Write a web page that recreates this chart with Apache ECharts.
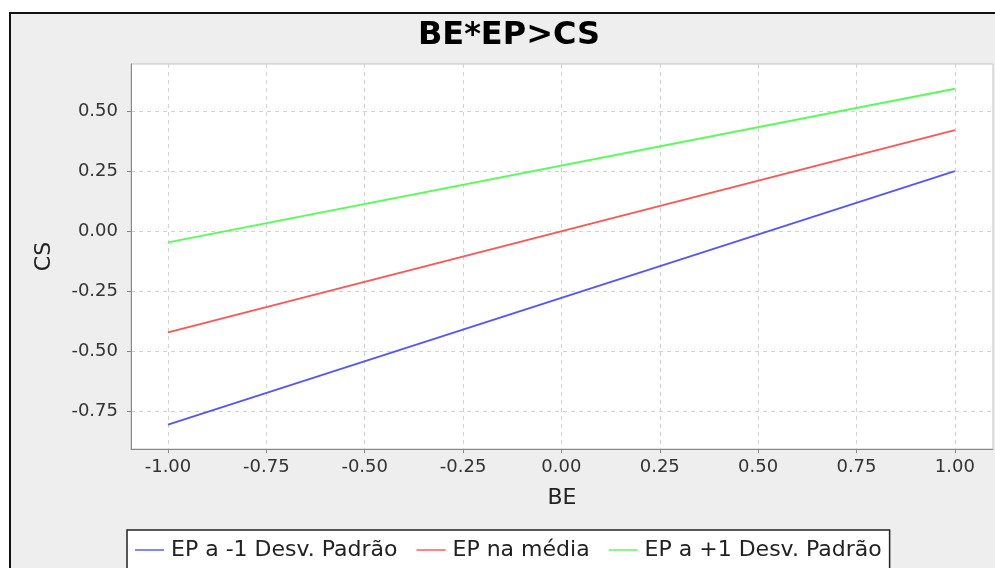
<!DOCTYPE html>
<html>
<head>
<meta charset="utf-8">
<title>BE*EP>CS</title>
<script src="https://cdn.jsdelivr.net/npm/echarts@6/dist/echarts.min.js"></script>
<style>
    html, body { margin: 0; padding: 0; background: #ffffff; }
    #mychart { width: 995px; height: 568px; }
</style>
</head>
<body>
<div id="mychart"></div>
<script>
// dados
var beValues = [-1, 1];
var epMenos1 = [-0.805, 0.25];
var epMedia = [-0.421, 0.421];
var epMais1 = [-0.046, 0.593];
var xTicks = [-1, -0.75, -0.5, -0.25, 0, 0.25, 0.5, 0.75, 1];
var yTicks = [-0.75, -0.5, -0.25, 0, 0.25, 0.5];
var seriesNames = ['EP a -1 Desv. Padrão', 'EP na média', 'EP a +1 Desv. Padrão'];

var fontName = 'DejaVu Sans';

function toPairs(xs, ys) {
    var out = [];
    xs.forEach(function (v, i) {
        out.push([v, ys[i]]);
    });
    return out;
}

var myChart = echarts.init(document.getElementById('mychart'), null, { renderer: 'canvas' });
myChart.setOption({
    animation: false,
    backgroundColor: '#ffffff',
    color: ['#5555ff', '#ff5555', '#55ff55'],
    graphic: [{
        type: 'rect',
        z: -100,
        shape: { x: 10, y: 13, width: 1000, height: 600 },
        style: { fill: '#eeeeee', stroke: '#111111', lineWidth: 2 }
    }],
    title: {
        text: 'BE*EP>CS',
        left: 504,
        top: 15,
        textAlign: 'center',
        textStyle: { fontFamily: fontName, fontWeight: 'bold', fontSize: 32, color: '#000000' }
    },
    legend: {
        data: seriesNames,
        left: 127,
        top: 530,
        padding: [9, 8, 9, 8],
        itemWidth: 29,
        itemHeight: 22,
        itemGap: 19,
        borderColor: '#222222',
        borderWidth: 1.5,
        backgroundColor: '#ffffff',
        icon: 'path://M0,0 L20,0 L20,1 L0,1 Z',
        textStyle: { fontFamily: fontName, fontSize: 22, color: '#222222', padding: [0, 0, 0, 2] }
    },
    grid: {
        left: 131,
        top: 64,
        right: 2,
        bottom: 119,
        show: true,
        backgroundColor: '#ffffff',
        borderColor: '#c4c4c4',
        borderWidth: 1
    },
    xAxis: {
        type: 'value',
        min: -1.094,
        max: 1.097,
        name: 'BE',
        nameLocation: 'middle',
        nameGap: 38,
        nameTextStyle: { fontFamily: fontName, fontSize: 22, color: '#222222' },
        axisLine: { show: true, onZero: false, lineStyle: { color: '#888888', width: 1 } },
        axisTick: { show: true, length: 4, lineStyle: { color: '#888888' }, customValues: xTicks },
        axisLabel: {
            customValues: xTicks,
            margin: 9,
            fontFamily: fontName,
            fontSize: 18,
            color: '#333333',
            formatter: function (v) { return v.toFixed(2); }
        },
        splitLine: { show: true, lineStyle: { color: '#d2d2d2', type: [4, 4], width: 1 } }
    },
    yAxis: {
        type: 'value',
        min: -0.906,
        max: 0.696,
        name: 'CS',
        nameLocation: 'middle',
        nameRotate: 90,
        nameGap: 76,
        nameTextStyle: { fontFamily: fontName, fontSize: 22, color: '#222222' },
        axisLine: { show: true, onZero: false, lineStyle: { color: '#888888', width: 1 } },
        axisTick: { show: true, length: 4, lineStyle: { color: '#888888' }, customValues: yTicks },
        axisLabel: {
            customValues: yTicks,
            margin: 13,
            fontFamily: fontName,
            fontSize: 18,
            color: '#333333',
            formatter: function (v) { return v.toFixed(2); }
        },
        splitLine: { show: true, lineStyle: { color: '#d2d2d2', type: [4, 4], width: 1 } }
    },
    series: [
        {
            name: seriesNames[0],
            type: 'line',
            showSymbol: false,
            lineStyle: { width: 1.8 },
            data: toPairs(beValues, epMenos1)
        },
        {
            name: seriesNames[1],
            type: 'line',
            showSymbol: false,
            lineStyle: { width: 1.8 },
            data: toPairs(beValues, epMedia)
        },
        {
            name: seriesNames[2],
            type: 'line',
            showSymbol: false,
            lineStyle: { width: 1.8 },
            data: toPairs(beValues, epMais1)
        }
    ]
});
</script>
</body>
</html>
